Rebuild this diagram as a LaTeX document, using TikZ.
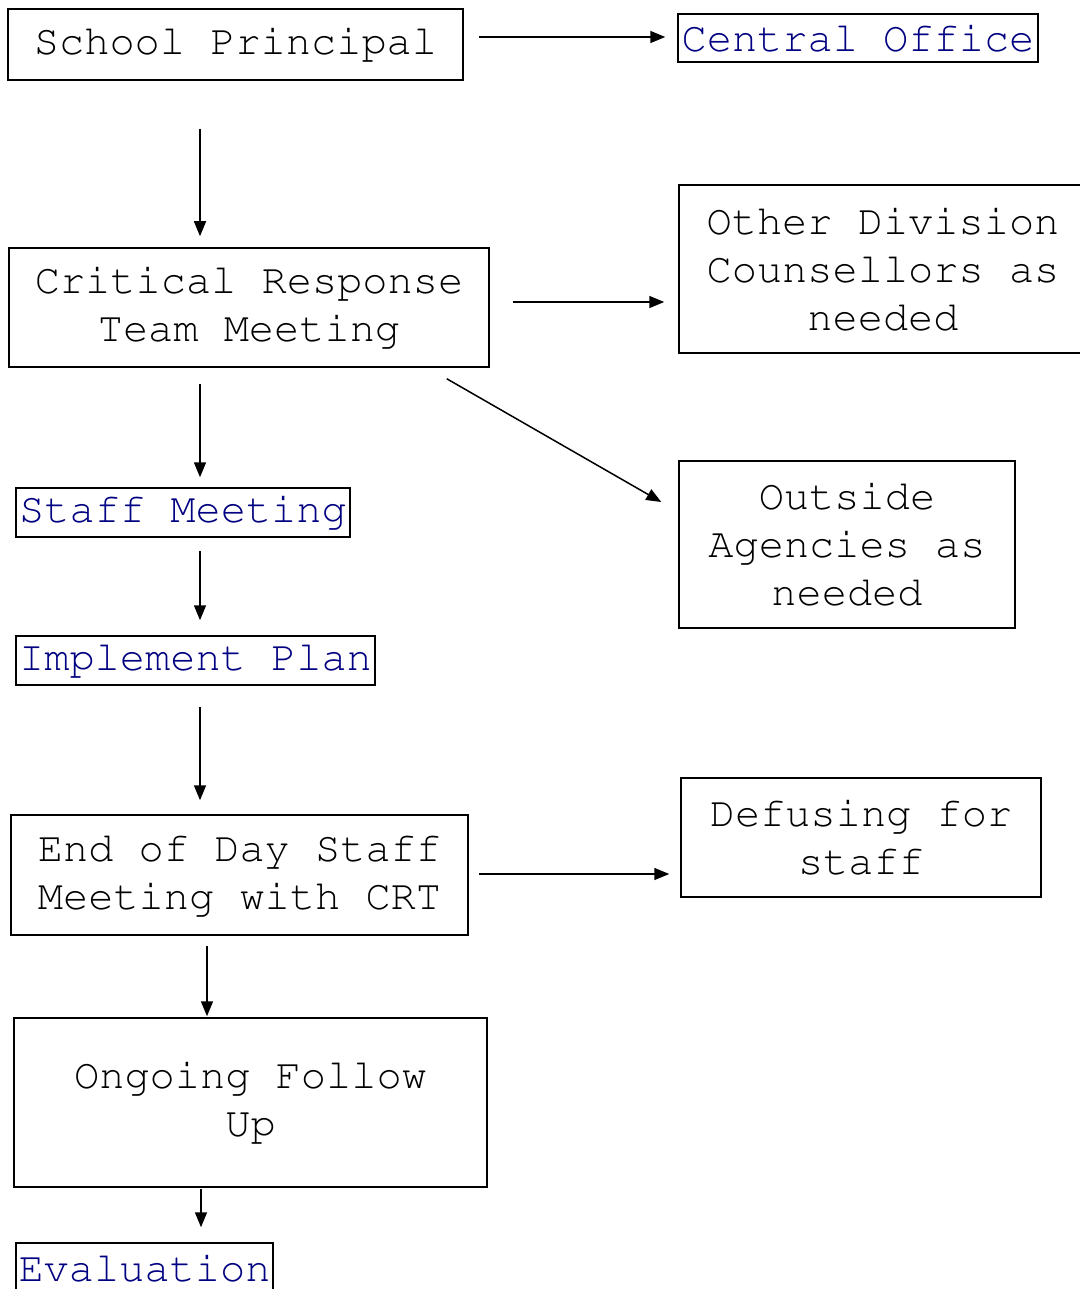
\documentclass[tikz,border=0pt]{standalone}
\usepackage[T1]{fontenc}
\usetikzlibrary{arrows.meta,positioning}
\definecolor{linkblue}{RGB}{0,0,128}
\tikzset{
    box/.style={draw,line width=1.5pt,inner sep=0pt,align=center,font=\fontfamily{pcr}\fontsize{42}{48}\selectfont},
    link/.style={box,text=linkblue},
    flow/.style={->,line width=1.5pt}
}

\begin{document}
\begin{tikzpicture}[x=1pt,y=-1pt,>={Triangle[length=15pt,width=12pt]}]
    \useasboundingbox (0,0) rectangle (1079,1289);
    \coordinate (trunk) at (200,0);
    \coordinate (trunkb) at (207,0);
    \coordinate (trunkc) at (201,0);

    \node [box,minimum width=455pt,minimum height=71pt] (principal) at (235.5,44.5) {School Principal};
    \node [link,minimum width=360pt,minimum height=48pt] (central) at (858,38) {Central Office};
    \node [box,minimum width=480pt,minimum height=119pt] (crt) at (249,307.5) {Critical Response\\Team Meeting};
    \node [box,minimum width=408pt,minimum height=168pt] (other) at (883,269) {Other Division\\Counsellors as\\needed};
    \node [box,minimum width=336pt,minimum height=167pt] (outside) at (847,544.5) {Outside\\Agencies as\\needed};
    \node [link,minimum width=334pt,minimum height=49pt] (staff) at (183,512.5) {Staff Meeting};
    \node [link,minimum width=359pt,minimum height=49pt] (plan) at (195.5,660.5) {Implement Plan};
    \node [box,minimum width=457pt,minimum height=120pt] (endday) at (239.5,875) {End of Day Staff\\Meeting with CRT};
    \node [box,minimum width=360pt,minimum height=119pt] (defusing) at (861,837.5) {Defusing for\\staff};
    \node [box,minimum width=473pt,minimum height=169pt] (ongoing) at (250.5,1102.5) {Ongoing Follow\\Up};
    \node [link,minimum width=257pt,minimum height=50pt] (eval) at (144.5,1268) {Evaluation};

    % side arrows
    \draw[flow] ([xshift=15pt,yshift=7.5pt]principal.east) -- ([xshift=-12pt,yshift=1pt]central.west);
    \draw[flow] ([xshift=23pt,yshift=5.5pt]crt.east) -- ([xshift=-14pt,yshift=-33pt]other.west);
    \draw[flow] ([xshift=-43pt,yshift=-11pt]crt.south east) -- ([xshift=-17pt,yshift=42.5pt]outside.west);
    \draw[flow] ([xshift=10pt,yshift=1pt]endday.east) -- ([xshift=-11pt,yshift=-36.5pt]defusing.west);

    % main column
    \draw[flow,shorten <=48pt,shorten >=11pt] (principal.south -| trunk) -- (crt.north -| trunk);
    \draw[flow,shorten <=16pt,shorten >=10pt] (crt.south -| trunk) -- (staff.north -| trunk);
    \draw[flow,shorten <=13pt,shorten >=15pt] (staff.south -| trunk) -- (plan.north -| trunk);
    \draw[flow,shorten <=21pt,shorten >=14pt] (plan.south -| trunk) -- (endday.north -| trunk);
    \draw[flow,shorten <=10pt,shorten >=1pt] (endday.south -| trunkb) -- (ongoing.north -| trunkb);
    \draw[flow,shorten <=1pt,shorten >=15pt] (ongoing.south -| trunkc) -- (eval.north -| trunkc);
\end{tikzpicture}
\end{document}
